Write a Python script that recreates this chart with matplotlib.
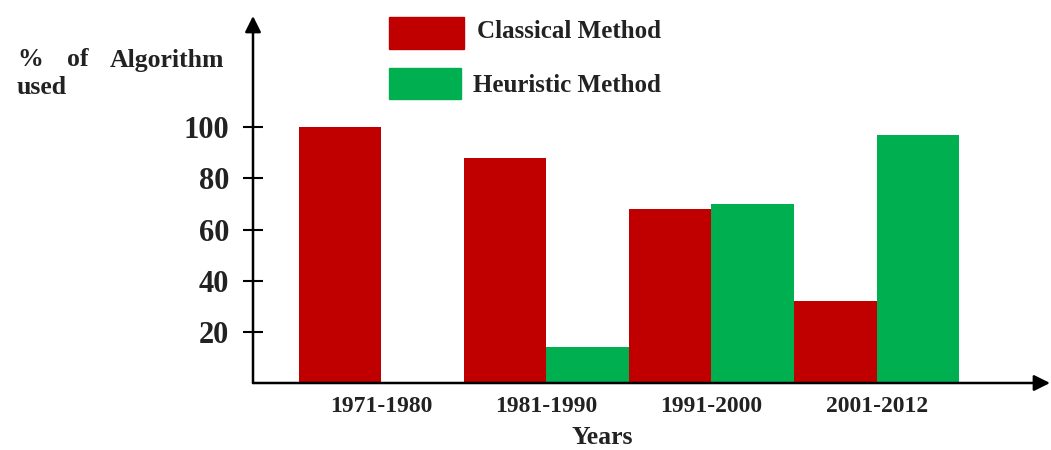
"""Bar chart: share of classical vs heuristic algorithms by decade."""
import numpy as np
import matplotlib
matplotlib.use("Agg")
from matplotlib import pyplot as plt
from matplotlib.patches import Rectangle

periods = ["1971-1980", "1981-1990", "1991-2000", "2001-2012"]
classical = [100, 88, 68, 32]
heuristic = [0, 14, 70, 97]
yticks = [20, 40, 60, 80, 100]

RED = "#C00000"
GREEN = "#00B050"
TXT = "#222222"
W, H = 1051, 450

plt.rcParams["font.family"] = ["Liberation Serif", "DejaVu Serif"]
plt.rcParams["font.weight"] = "bold"

fig = plt.figure(figsize=(W / 100, H / 100), dpi=100)
ax = fig.add_axes([253 / W, 1 - 383 / H, (1050 - 253) / W, (383 - 16) / H])

x = np.arange(len(periods))
width = 0.5
ax.bar(x - width / 2, classical, width, color=RED, zorder=2)
ax.bar(x + width / 2, heuristic, width, color=GREEN, zorder=2)

ax.set_xlim(-0.776, 4.05)
ax.set_ylim(0, 143.5)

for s in ax.spines.values():
    s.set_visible(False)

# axes drawn as arrows
ax.annotate("", xy=(1.0, 0), xytext=(0, 0), xycoords="axes fraction",
            arrowprops=dict(arrowstyle="-|>", lw=1.8, color="black",
                            mutation_scale=24, shrinkA=0, shrinkB=0), zorder=5)
ax.annotate("", xy=(0, 1.0), xytext=(0, 0), xycoords="axes fraction",
            arrowprops=dict(arrowstyle="-|>", lw=1.8, color="black",
                            mutation_scale=24, shrinkA=0, shrinkB=0), zorder=5)

ax.set_yticks(yticks)
ax.set_yticklabels([str(v) for v in yticks], fontsize=22, fontweight="bold", color=TXT)
ax.tick_params(axis="y", direction="inout", length=14, width=1.5, pad=10)

ax.set_xticks(x)
ax.set_xticklabels(periods, fontsize=17, fontweight="bold", color=TXT)
ax.tick_params(axis="x", length=0, pad=9)

# y label, justified over two lines
ylab_size = 18.5
fig.text(17 / W, 1 - 60 / H, "%", fontsize=ylab_size, fontweight="bold",
         color=TXT, ha="left", va="center")
fig.text(78 / W, 1 - 60 / H, "of", fontsize=ylab_size, fontweight="bold",
         color=TXT, ha="center", va="center")
fig.text(224 / W, 1 - 60 / H, "Algorithm", fontsize=ylab_size,
         fontweight="bold", color=TXT, ha="right", va="center")
fig.text(17 / W, 1 - 88 / H, "used", fontsize=ylab_size, fontweight="bold",
         color=TXT, ha="left", va="center")

fig.text(602 / W, 1 - 438 / H, "Years", fontsize=18.5, fontweight="bold",
         color=TXT, ha="center", va="center")

# legend
fig.patches.append(Rectangle((389 / W, 1 - 49 / H), 75 / W, 32 / H,
                             transform=fig.transFigure, color=RED))
fig.patches.append(Rectangle((389 / W, 1 - 99 / H), 72 / W, 31 / H,
                             transform=fig.transFigure, color=GREEN))
fig.text(477 / W, 1 - 31 / H, "Classical Method", fontsize=18,
         fontweight="bold", color=TXT, ha="left", va="center")
fig.text(473 / W, 1 - 85 / H, "Heuristic Method", fontsize=18,
         fontweight="bold", color=TXT, ha="left", va="center")

fig.savefig("out.png", dpi=100)
